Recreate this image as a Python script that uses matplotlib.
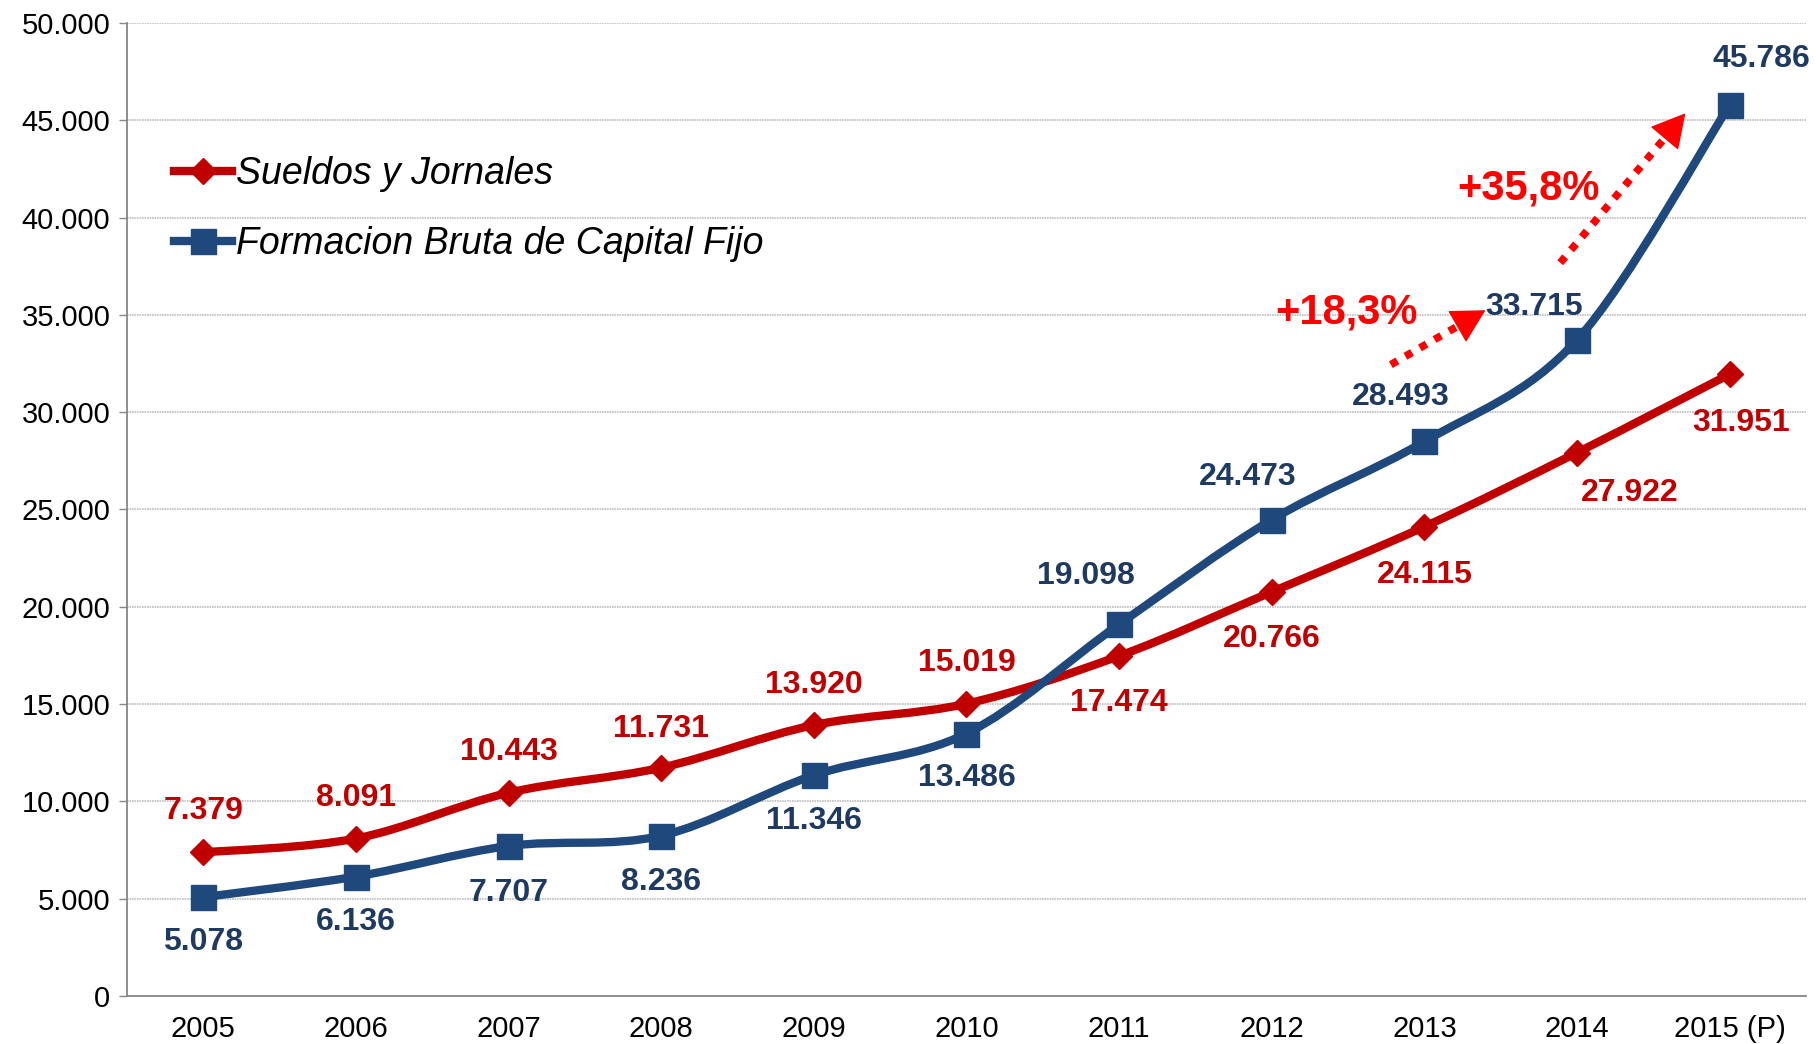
import numpy as np
import matplotlib
matplotlib.use('Agg')
import matplotlib.pyplot as plt
from matplotlib.path import Path
from matplotlib.patches import PathPatch
from matplotlib.lines import Line2D
from matplotlib.ticker import FuncFormatter, MultipleLocator

plt.rcParams['font.family'] = ['Liberation Sans', 'DejaVu Sans']

### Data
years = ['2005', '2006', '2007', '2008', '2009', '2010', '2011', '2012', '2013', '2014', '2015 (P)']
sueldos = [7379, 8091, 10443, 11731, 13920, 15019, 17474, 20766, 24115, 27922, 31951]
formacion = [5078, 6136, 7707, 8236, 11346, 13486, 19098, 24473, 28493, 33715, 45786]
sueldos_name = 'Sueldos y Jornales'
formacion_name = 'Formacion Bruta de Capital Fijo'

RED = '#C00000'
BLUE = '#1F497D'
BLUE_TXT = '#1F3A60'

### label offsets in points (dx, dy)
sueldos_off = [(0, 30), (0, 29), (0, 29), (0, 28), (0, 29), (0, 29),
               (0, -34), (0, -34), (0, -35), (38, -29), (8, -35)]
formacion_off = [(0, -32), (0, -33), (0, -34), (0, -33), (0, -33), (0, -32),
                 (-24, 35), (-17, 31), (-17, 32), (-31, 24), (23, 33)]


def fmt(v, pos=None):
    return '{:,.0f}'.format(v).replace(',', '.')


def smooth_path(xs, ys):
    # excel-like smoothed line: catmull-rom -> bezier
    pts = np.column_stack([xs, ys]).astype(float)
    n = len(pts)
    verts = [pts[0]]
    codes = [Path.MOVETO]
    for i in range(n - 1):
        p0 = pts[i - 1] if i > 0 else pts[i]
        p1 = pts[i]
        p2 = pts[i + 1]
        p3 = pts[i + 2] if i + 2 < n else pts[i + 1]
        c1 = p1 + (p2 - p0) / 6.0
        c2 = p2 - (p3 - p1) / 6.0
        verts += [c1, c2, p2]
        codes += [Path.CURVE4] * 3
    return Path(verts, codes)


def dotted_arrow(ax, start, end, frac):
    # dotted shaft + solid head
    s = np.array(start, float)
    e = np.array(end, float)
    mid = s + (e - s) * frac
    ax.plot([s[0], mid[0]], [s[1], mid[1]], color='#FF0000', lw=5.5,
            linestyle=(0, (1, 1.2)), solid_capstyle='butt', dash_capstyle='butt', zorder=6)
    ax.annotate('', xy=tuple(e), xytext=tuple(e - (e - s) * 0.08),
                arrowprops=dict(arrowstyle='-|>,head_length=0.55,head_width=0.3',
                                color='#FF0000', lw=1, mutation_scale=40,
                                shrinkA=0, shrinkB=0), zorder=6)


fig = plt.figure(figsize=(18.16, 10.44), dpi=100)
ax = fig.add_axes([0.0699, 0.046, 0.9246, 0.932])

x = np.arange(len(years))

for vals, col, mk, ms in [(sueldos, RED, 'D', 13), (formacion, BLUE, 's', 18)]:
    ax.add_patch(PathPatch(smooth_path(x, vals), facecolor='none', edgecolor=col,
                           lw=6, capstyle='round', joinstyle='round', zorder=3))
    ax.plot(x, vals, linestyle='none', marker=mk, markersize=ms, color=col, zorder=4)

for xi, v, (dx, dy) in zip(x, sueldos, sueldos_off):
    ax.annotate(fmt(v), (xi, v), xytext=(dx, dy), textcoords='offset points',
                ha='center', va='center', fontsize=23, fontweight='bold', color=RED, zorder=5)
for xi, v, (dx, dy) in zip(x, formacion, formacion_off):
    ax.annotate(fmt(v), (xi, v), xytext=(dx, dy), textcoords='offset points',
                ha='center', va='center', fontsize=23, fontweight='bold', color=BLUE_TXT, zorder=5)

### growth arrows
dotted_arrow(ax, (7.78, 32440), (8.40, 35240), 0.85)
dotted_arrow(ax, (8.89, 37680), (9.71, 45360), 0.92)
ax.text(7.49, 35120, '+18,3%', fontsize=30, fontweight='bold', color='#FF0000',
        ha='center', va='center', zorder=6)
ax.text(8.68, 41490, '+35,8%', fontsize=30, fontweight='bold', color='#FF0000',
        ha='center', va='center', zorder=6)

ax.set_xlim(-0.5, len(years) - 0.5)
ax.set_ylim(0, 50000)
ax.set_xticks(x)
ax.set_xticklabels(years)
ax.yaxis.set_major_locator(MultipleLocator(5000))
ax.yaxis.set_major_formatter(FuncFormatter(fmt))
ax.tick_params(axis='x', length=0, labelsize=21, pad=14)
ax.tick_params(axis='y', length=6, width=1, color='#868686', labelsize=21, pad=6)
ax.grid(axis='y', color='#BDBDBD', linestyle=(0, (1, 0.5)), lw=1.2)
ax.set_axisbelow(True)
for s in ['top', 'right']:
    ax.spines[s].set_visible(False)
for s in ['left', 'bottom']:
    ax.spines[s].set_color('#868686')
    ax.spines[s].set_linewidth(1.3)

handles = [Line2D([], [], color=RED, lw=6, marker='D', markersize=13),
           Line2D([], [], color=BLUE, lw=6, marker='s', markersize=18)]
ax.legend(handles, [sueldos_name, formacion_name], loc='upper left',
          bbox_to_anchor=(0.008, 0.898), frameon=False, handlelength=1.55,
          handletextpad=0.1, labelspacing=0.9,
          prop=dict(family='Liberation Sans', style='italic', size=27))

fig.savefig('out.png', dpi=100)
